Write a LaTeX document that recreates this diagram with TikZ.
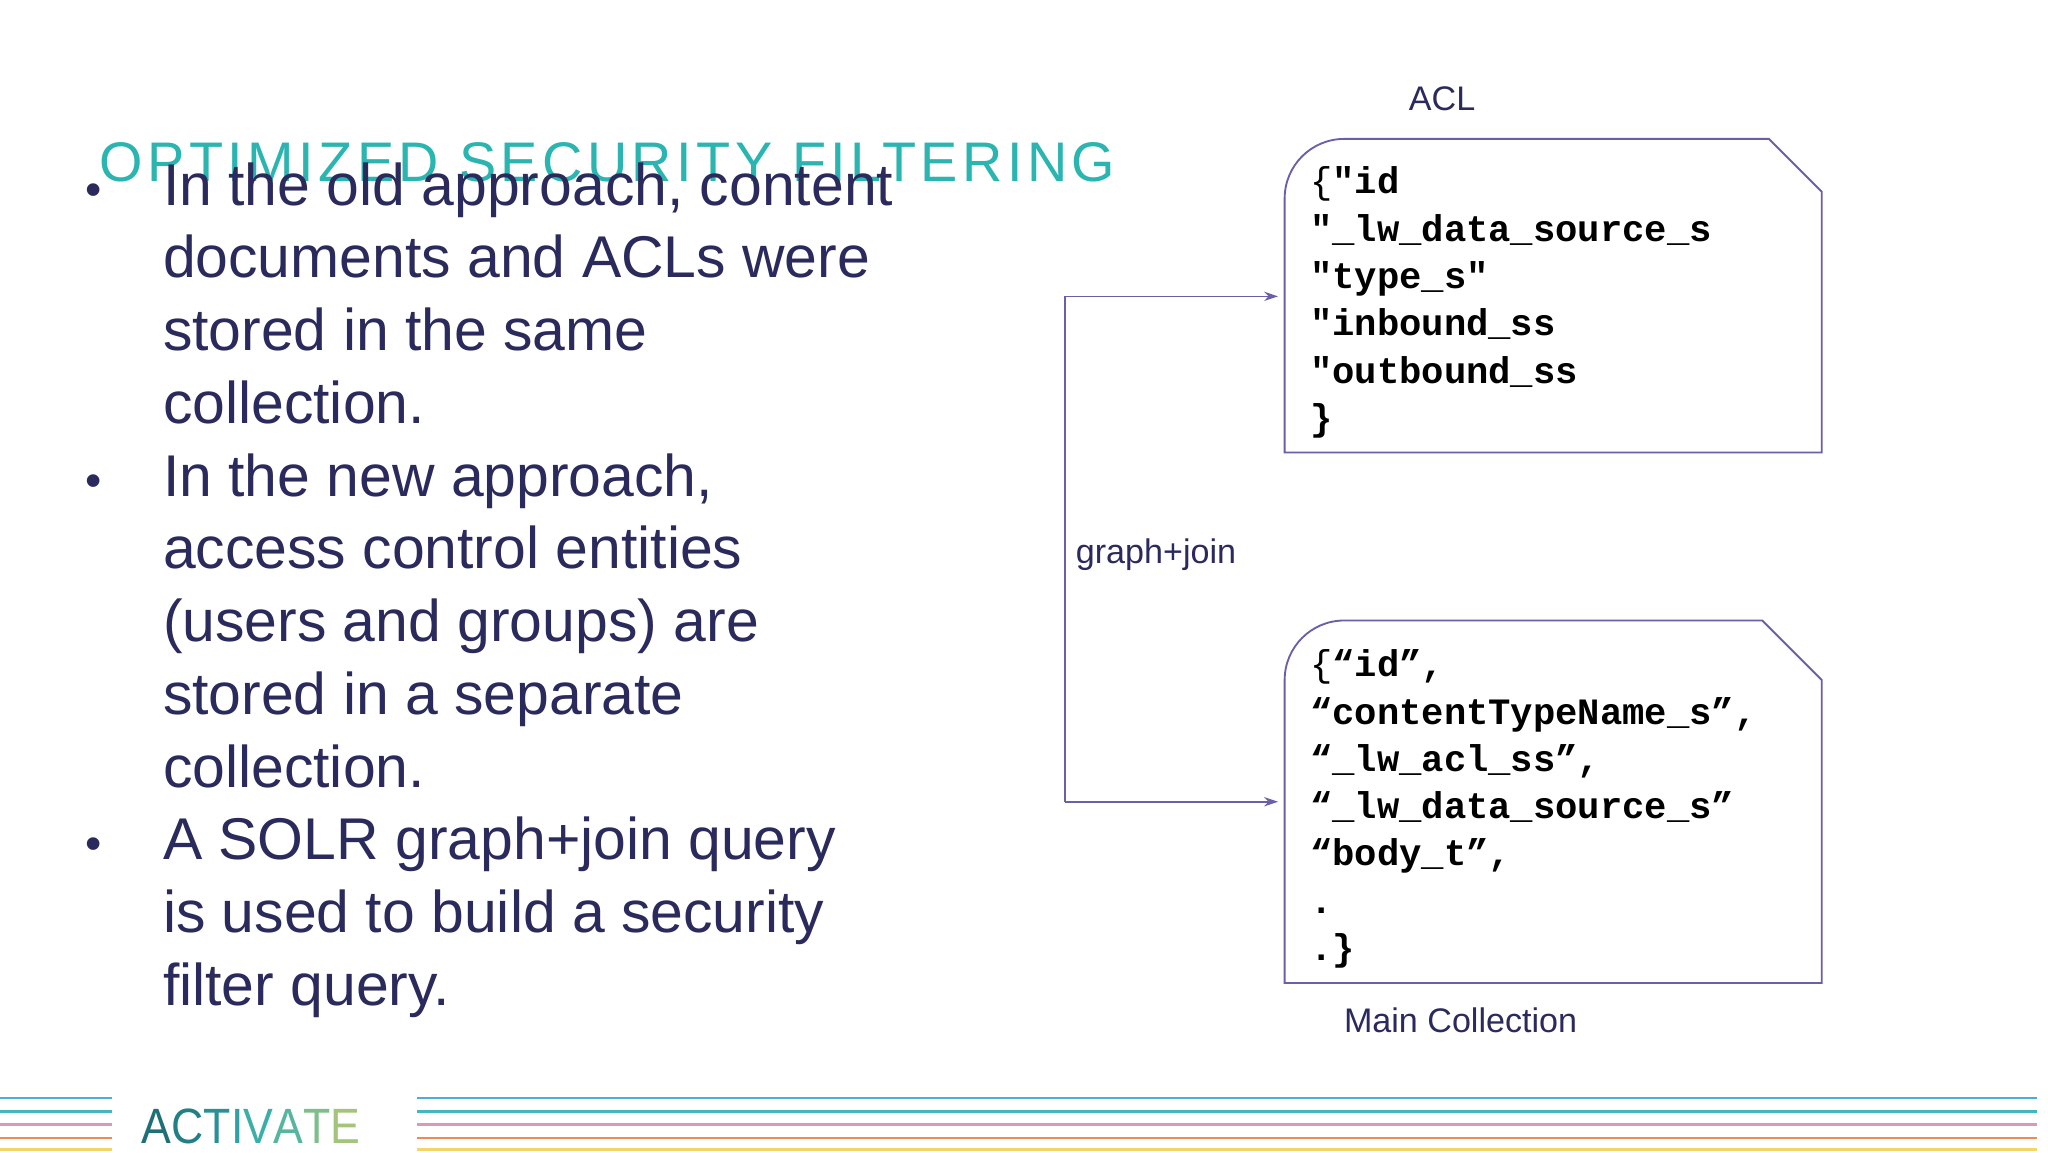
\documentclass[tikz,border=0pt]{standalone}
\usepackage{fontspec}
\setmainfont{Liberation Sans}
\newfontfamily\monob{Liberation Mono}
\newfontfamily\spaced{Liberation Sans}[LetterSpace=8]
\usetikzlibrary{arrows.meta}
\definecolor{navy}{HTML}{2B2A5C}
\definecolor{teal1}{HTML}{2AB5B0}
\definecolor{boxc}{HTML}{6A60A8}
\definecolor{s1}{HTML}{4AAED6}
\definecolor{s2}{HTML}{45B5BE}
\definecolor{s3}{HTML}{D89AB8}
\definecolor{s4}{HTML}{EE8A55}
\definecolor{s5}{HTML}{F3D66A}
\begin{document}
\begin{tikzpicture}[x=0.03cm,y=-0.03cm,
  body/.style={anchor=base west,text=navy,font=\fontsize{38}{47}\selectfont,inner sep=0},
  bul/.style={anchor=base,text=navy,font=\fontsize{30}{36}\selectfont,inner sep=0},
  code/.style={anchor=north west,align=left,inner sep=0,font=\monob\bfseries\fontsize{24}{30.5}\selectfont},
  docbox/.style={draw=boxc,line width=1.2pt,fill=white},
  conn/.style={draw=boxc,line width=1pt,-{Stealth[length=9pt,width=6pt]}},
  lbl/.style={text=navy,font=\fontsize{22}{26}\selectfont,inner sep=0},
  stripe/.style={line width=1.6pt}]
\useasboundingbox (0,0) rectangle (1548,871);
\fill[white] (0,0) rectangle (1548,871);
% title
\node[anchor=base west,text=teal1,inner sep=0,font=\spaced\fontsize{36}{40}\selectfont] (title) at (75,137) {OPTIMIZED SECURITY FILTERING};
% bullets
\foreach \y/\t [count=\i] in {155/{In the old approach, content},210/documents and ACLs were,265/stored in the same,320/collection.,375/{In the new approach,},430/access control entities,485/(users and groups) are,540/stored in a separate,595/collection.,650/A SOLR graph+join query,705/is used to build a security,760/filter query.}
  {\node[body] (t\i) at (123,\y) {\t};}
\foreach \y [count=\i] in {155,375,650} \node[bul] (b\i) at (71,\y) {•};
% boxes
\draw[docbox] (1016,105) -- (1337,105) -- (1377,145) -- (1377,342) -- (971,342) -- (971,150) arc (180:270:45) -- cycle;
\draw[docbox] (1016,469) -- (1332,469) -- (1377,514) -- (1377,743) -- (971,743) -- (971,514) arc (180:270:45) -- cycle;
\coordinate (acl) at (966,224);
\coordinate (mainc) at (966,606);
\node[code] (c1) at (990,126) {\mdseries\{\bfseries"id\\"\_lw\_data\_source\_s\\"type\_s"\\"inbound\_ss\\"outbound\_ss\\\}};
\node[code] (c2) at (990,491) {\mdseries\{\bfseries“id”,\\“contentTypeName\_s”,\\“\_lw\_acl\_ss”,\\“\_lw\_data\_source\_s”\\“body\_t”,\\.\\.\}};
\node[lbl] (acllbl) at (1090,75) {ACL};
\node[lbl] (mclbl) at (1104,771) {Main Collection};
% connector
\coordinate (top) at (805,224);
\coordinate (bot) at (805,606);
\draw[boxc,line width=1pt] (top) -- (bot);
\draw[conn] (top) -- (acl);
\draw[conn] (bot) -- (mainc);
\node[lbl,anchor=west] (gj) at (813,419) {graph+join};
% stripes
\foreach \y/\c in {830/s1,840/s2,850/s3,860/s4,869/s5}{
  \draw[stripe,\c] (0,\y) -- (85,\y);
  \draw[stripe,\c] (315,\y) -- (1540,\y);}
\node[inner sep=0,anchor=base west,font=\fontsize{32}{32}\selectfont,xscale=0.9] (logo) at (107,864)
 {\textcolor[HTML]{1F6F78}{A}\textcolor[HTML]{237F86}{C}\textcolor[HTML]{2A9098}{T}\textcolor[HTML]{32A0A4}{I}\textcolor[HTML]{3AAEA8}{V}\textcolor[HTML]{55B5A0}{A}\textcolor[HTML]{7EBD8C}{T}\textcolor[HTML]{A3C47A}{E}};
\end{tikzpicture}
\end{document}
